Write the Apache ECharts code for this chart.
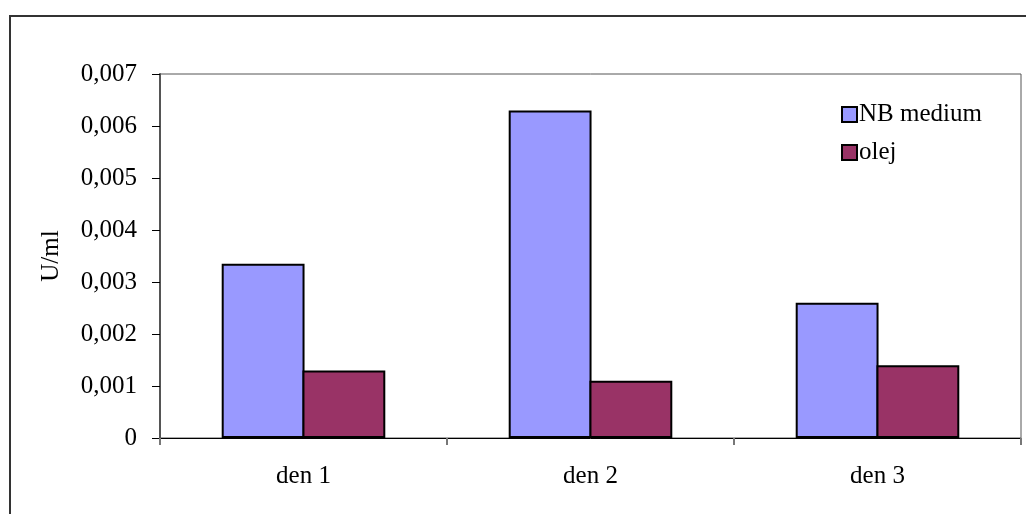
<!DOCTYPE html>
<html>
<head>
<meta charset="utf-8">
<title>U/ml</title>
<script src="https://cdn.jsdelivr.net/npm/echarts@6/dist/echarts.min.js"></script>
<style>
  html, body { margin: 0; padding: 0; background: #ffffff; }
  #chart { width: 1026px; height: 514px; }
</style>
</head>
<body>
<div id="chart"></div>
<script>
// Measured activity per day
const categories = ['den 1', 'den 2', 'den 3'];
const nbMedium = [0.00335, 0.0063, 0.0026];
const olej = [0.0013, 0.0011, 0.0014];
const seriesNames = ['NB medium', 'olej'];
const yAxisName = 'U/ml';
const yMin = 0;
const yMax = 0.007;
const yStep = 0.001;

const FONT = '"Liberation Serif", "Times New Roman", serif';
const FONT_SIZE = 25;

const chart = echarts.init(document.getElementById('chart'), null, { renderer: 'canvas' });

chart.setOption({
  animation: false,
  backgroundColor: '#ffffff',
  textStyle: { fontFamily: FONT, color: '#000000' },
  graphic: [{
    type: 'rect',
    silent: true,
    z: -1,
    shape: { x: 10, y: 16, width: 1100, height: 600 },
    style: { fill: 'none', stroke: '#333333', lineWidth: 2 }
  }],
  grid: {
    left: 160,
    right: 5,
    top: 74,
    bottom: 76,
    show: true,
    borderColor: '#555555',
    borderWidth: 1,
    backgroundColor: 'transparent'
  },
  legend: {
    orient: 'vertical',
    left: 836,
    top: 97,
    icon: 'rect',
    itemWidth: 15,
    itemHeight: 15,
    itemGap: 13,
    textStyle: { fontFamily: FONT, fontSize: FONT_SIZE, color: '#000000', padding: [0, 0, 0, -3] },
    data: seriesNames
  },
  xAxis: {
    type: 'category',
    data: categories,
    axisLine: { lineStyle: { color: '#000000', width: 1 } },
    axisTick: { show: true, length: 7, lineStyle: { color: '#777777', width: 2 } },
    axisLabel: { margin: 26, fontFamily: FONT, fontSize: FONT_SIZE, color: '#000000' },
    splitLine: { show: false }
  },
  yAxis: {
    type: 'value',
    min: yMin,
    max: yMax,
    interval: yStep,
    name: yAxisName,
    nameLocation: 'middle',
    nameGap: 96,
    nameRotate: 90,
    nameTextStyle: { fontFamily: FONT, fontSize: FONT_SIZE, color: '#000000' },
    axisLine: { show: true, lineStyle: { color: '#555555', width: 2 } },
    axisTick: { show: true, length: 8, lineStyle: { color: '#000000', width: 1 } },
    axisLabel: {
      margin: 23,
      fontFamily: FONT,
      fontSize: FONT_SIZE,
      color: '#000000',
      formatter: v => (v === 0 ? '0' : v.toFixed(3).replace('.', ','))
    },
    splitLine: { show: false }
  },
  series: [
    {
      name: seriesNames[0],
      type: 'bar',
      data: nbMedium,
      barGap: '-2.5%',
      barCategoryGap: '43%',
      itemStyle: { color: '#9999FF', borderColor: '#000000', borderWidth: 2 }
    },
    {
      name: seriesNames[1],
      type: 'bar',
      data: olej,
      barGap: '-2.5%',
      barCategoryGap: '43%',
      itemStyle: { color: '#993366', borderColor: '#000000', borderWidth: 2 }
    }
  ]
});
</script>
</body>
</html>
